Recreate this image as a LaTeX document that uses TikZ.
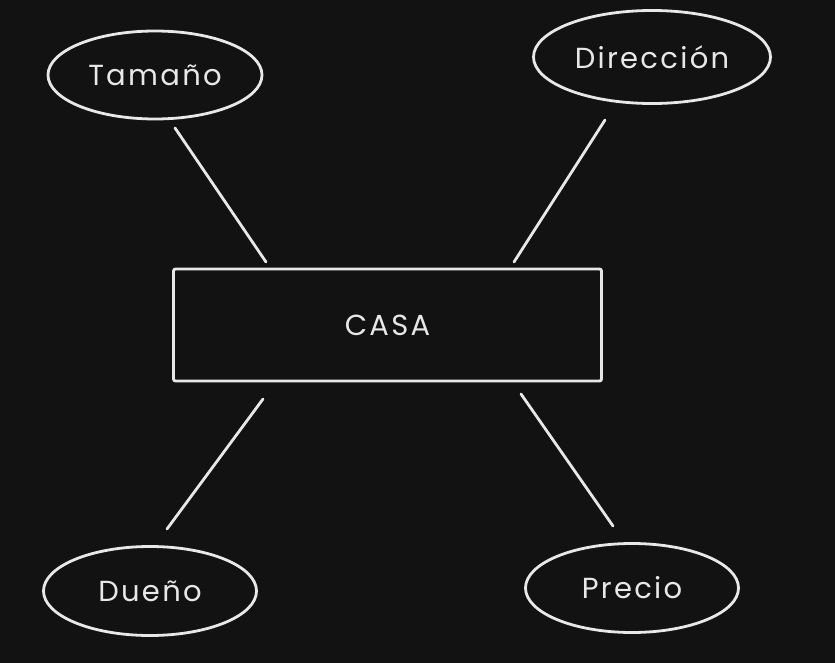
\documentclass[tikz,border=0pt]{standalone}
\usepackage{fontspec}
\setmainfont{Poppins}[LetterSpace=8]
\usetikzlibrary{shapes.geometric}
\definecolor{bg}{HTML}{121212}
\definecolor{ink}{HTML}{E8E8E8}
\begin{document}
\begin{tikzpicture}[x=1pt,y=-1pt,
  attr/.style={draw=ink,line width=2.8pt,ellipse,inner sep=0pt,text=ink,font=\fontsize{29}{32}\selectfont},
  entity/.style={draw=ink,line width=2.8pt,rectangle,rounded corners=2pt,inner sep=0pt,text=ink,font=\fontsize{29}{32}\selectfont},
  link/.style={draw=ink,line width=2.8pt,line cap=round}]
\fill[bg] (0,0) rectangle (835,663);
\useasboundingbox (0,0) rectangle (835,663);
\node[entity,minimum width=428pt,minimum height=112pt] (casa) at (387.5,325) {CASA};
\node[attr,minimum width=214pt,minimum height=88pt] (tam) at (155,75) {Tamaño};
\node[attr,minimum width=237pt,minimum height=93pt] (dir) at (652,57) {Dirección};
\node[attr,minimum width=213pt,minimum height=89pt] (due) at (150,591) {Dueño};
\node[attr,minimum width=213pt,minimum height=89pt] (pre) at (632,588) {Precio};
\coordinate (tamA) at (175,128);
\coordinate (tamB) at (266,262);
\coordinate (dirA) at (605,120);
\coordinate (dirB) at (514,262);
\coordinate (dueA) at (167,529);
\coordinate (dueB) at (263,399);
\coordinate (preA) at (613,526);
\coordinate (preB) at (521,394);
\draw[link] (tamA) -- (tamB);
\draw[link] (dirA) -- (dirB);
\draw[link] (dueA) -- (dueB);
\draw[link] (preA) -- (preB);
\end{tikzpicture}
\end{document}
